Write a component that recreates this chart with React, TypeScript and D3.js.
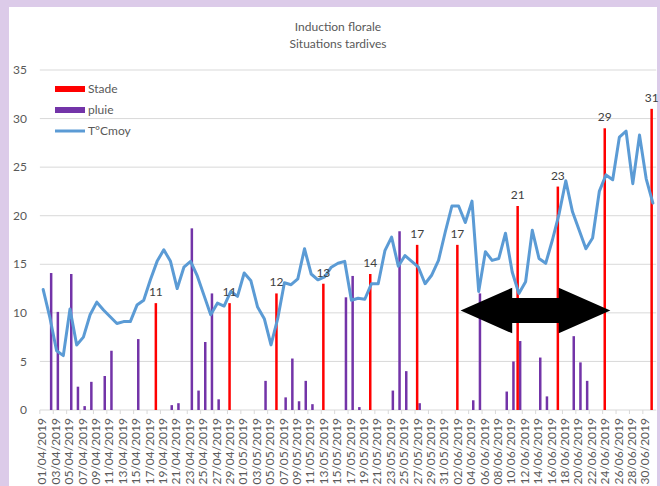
import React from "react";
import * as d3 from "d3";

// ---- DATA ----
const titleLines = ["Induction florale", "Situations tardives"];
const seriesNames = ["Stade", "pluie", "T°Cmoy"];
const startDate = new Date(2019, 3, 1);
const endDate = new Date(2019, 6, 2); // exclusive: last category 01/07/2019
const yTicks = [0, 5, 10, 15, 20, 25, 30, 35];

// T°Cmoy, one value per day from 01/04 to 01/07
const tmoy = [
  12.4, 9.5, 6.1, 5.6, 10.4, 6.7, 7.5, 9.8, 11.1, 10.3,
  9.6, 8.9, 9.1, 9.1, 10.8, 11.3, 13.4, 15.3, 16.5, 15.3,
  12.5, 14.7, 15.3, 13.8, 11.8, 9.8, 11.0, 10.7, 12.2, 11.7,
  14.1, 13.3, 10.6, 9.4, 6.7, 9.4, 13.1, 12.9, 13.5, 16.6,
  14.0, 13.4, 13.7, 14.7, 15.1, 15.3, 11.3, 11.5, 11.4, 13.0,
  13.0, 16.4, 17.8, 14.8, 15.9, 15.3, 14.7, 13.0, 13.9, 15.4,
  18.3, 21.0, 21.0, 19.3, 21.5, 12.2, 16.3, 15.4, 15.6, 18.2,
  14.2, 12.0, 13.2, 18.5, 15.6, 15.1, 17.5, 20.2, 23.6, 20.4,
  18.5, 16.6, 17.7, 22.5, 24.2, 23.7, 28.1, 28.7, 23.3, 28.3,
  23.8, 21.3,
];

// pluie (rain), only non-zero days
const pluie: [string, number][] = [
  ["02/04", 14.1], ["03/04", 10.1], ["05/04", 14.0], ["06/04", 2.4],
  ["07/04", 0.4], ["08/04", 2.9], ["10/04", 3.5], ["11/04", 6.1],
  ["15/04", 7.3], ["20/04", 0.5], ["21/04", 0.7], ["23/04", 18.7],
  ["24/04", 2.0], ["25/04", 7.0], ["26/04", 12.0], ["27/04", 1.1],
  ["04/05", 3.0], ["07/05", 1.3], ["08/05", 5.3], ["09/05", 0.9],
  ["10/05", 3.0], ["11/05", 0.6], ["16/05", 11.6], ["17/05", 13.8],
  ["18/05", 0.3], ["23/05", 2.0], ["24/05", 18.4], ["25/05", 4.0],
  ["27/05", 0.7], ["04/06", 1.0], ["05/06", 12.0], ["09/06", 1.9],
  ["10/06", 5.0], ["11/06", 7.1], ["14/06", 5.4], ["15/06", 1.4],
  ["19/06", 7.6], ["20/06", 4.9], ["21/06", 3.0],
];

// Stade (phenological stage), with data labels
const stade: [string, number][] = [
  ["18/04", 11], ["29/04", 11], ["06/05", 12], ["13/05", 13],
  ["20/05", 14], ["27/05", 17], ["02/06", 17], ["11/06", 21],
  ["17/06", 23], ["24/06", 29], ["01/07", 31],
];

// double arrow annotation (data coordinates)
const arrowFrom = "02/06";
const arrowTo = "24/06";

// ---- LAYOUT ----
const W = 660;
const H = 486;
const fmtKey = d3.timeFormat("%d/%m");
const fmtLabel = d3.timeFormat("%d/%m/%Y");
const days = d3.timeDay.range(startDate, endDate);
const keys = days.map((d) => fmtKey(d));

const x = d3.scaleBand<string>().domain(keys).range([39.85, 656.25]).padding(0);
const xs = d3
  .scaleBand<string>()
  .domain(["Stade", "pluie"])
  .range([0, x.bandwidth()])
  .paddingInner(0)
  .paddingOuter(0.34);
const y = d3.scaleLinear().domain([0, 35]).range([410, 70]);

const COLORS = { Stade: "#ff0000", pluie: "#7334a8", T: "#5b9bd5" };
const FONT = "Lato, 'Open Sans', sans-serif";
const TXT = "#595959";

export default function App() {
  const cx = (k: string) => (x(k) as number) + x.bandwidth() / 2;
  const line = d3
    .line<number>()
    .x((_, i) => cx(keys[i]))
    .y((v) => y(v));

  const [x0, x1] = x.range();

  // arrow geometry from scales
  const xa = cx(arrowFrom) + x.bandwidth() * 0.3;
  const xb = cx(arrowTo) + x.bandwidth() * 0.65;
  const yc = y(10.24);
  const hh = y(0) - y(2.35);
  const sh = y(0) - y(1.28);
  const headLen = x.step() * 7.7;
  const arrowPts = [
    [xa, yc],
    [xa + headLen, yc - hh],
    [xa + headLen, yc - sh],
    [xb - headLen, yc - sh],
    [xb - headLen, yc - hh],
    [xb, yc],
    [xb - headLen, yc + hh],
    [xb - headLen, yc + sh],
    [xa + headLen, yc + sh],
    [xa + headLen, yc + hh],
  ];

  return (
    <svg
      width={W}
      height={H}
      style={{ position: "absolute", left: 0, top: 0, display: "block" }}
      fontFamily={FONT}
    >
      <rect x={0} y={0} width={W} height={H} fill="#dccbe9" />
      <rect x={9} y={7} width={W - 12} height={H - 7} fill="#ffffff" />

      {/* title */}
      {titleLines.map((t, i) => (
        <text
          key={t}
          x={338}
          y={31 + i * 17}
          textAnchor="middle"
          fontSize={12}
          fill={TXT}
        >
          {t}
        </text>
      ))}

      {/* gridlines and y labels */}
      {yTicks.map((t) => (
        <g key={t}>
          <line
            x1={x0}
            x2={x1}
            y1={y(t)}
            y2={y(t)}
            stroke="#d9d9d9"
            strokeWidth={1}
          />
          <text
            x={27}
            y={y(t)}
            dy="0.35em"
            textAnchor="end"
            fontSize={12}
            fill={TXT}
          >
            {t}
          </text>
        </g>
      ))}

      {/* x tick marks & labels */}
      {keys.map((k, i) =>
        i % 2 === 0 ? (
          <g key={k}>
            <line
              x1={x(k) as number}
              x2={x(k) as number}
              y1={y(0)}
              y2={y(0) + 4}
              stroke="#d9d9d9"
            />
            <text
              transform={`translate(${cx(k) - 1},${y(0) + 8}) rotate(-90)`}
              textAnchor="end"
              dy="0.35em"
              fontSize={12}
              fill={TXT}
            >
              {fmtLabel(days[i])}
            </text>
          </g>
        ) : null
      )}

      {/* pluie bars */}
      {pluie.map(([k, v]) => (
        <rect
          key={"p" + k}
          x={(x(k) as number) + (xs("pluie") as number)}
          y={y(v)}
          width={xs.bandwidth()}
          height={y(0) - y(v)}
          fill={COLORS.pluie}
        />
      ))}

      {/* stade bars */}
      {stade.map(([k, v]) => (
        <rect
          key={"s" + k}
          x={(x(k) as number) + (xs("Stade") as number)}
          y={y(v)}
          width={xs.bandwidth()}
          height={y(0) - y(v)}
          fill={COLORS.Stade}
        />
      ))}

      {/* temperature line */}
      <path
        d={line(tmoy) || ""}
        fill="none"
        stroke={COLORS.T}
        strokeWidth={3}
        strokeLinejoin="round"
        strokeLinecap="round"
      />

      {/* stade labels */}
      {stade.map(([k, v]) => (
        <text
          key={"l" + k}
          x={(x(k) as number) + (xs("Stade") as number) + xs.bandwidth() / 2}
          y={y(v) - 7}
          textAnchor="middle"
          fontSize={12}
          fill="#404040"
        >
          {v}
        </text>
      ))}

      {/* legend */}
      <g>
        <rect x={55} y={86} width={30} height={6} fill={COLORS.Stade} />
        <text x={88} y={89} dy="0.35em" fontSize={12} fill={TXT}>
          {seriesNames[0]}
        </text>
        <rect x={55} y={107} width={30} height={6} fill={COLORS.pluie} />
        <text x={88} y={110} dy="0.35em" fontSize={12} fill={TXT}>
          {seriesNames[1]}
        </text>
        <line x1={55} x2={85} y1={131} y2={131} stroke={COLORS.T} strokeWidth={3} />
        <text x={88} y={131} dy="0.35em" fontSize={12} fill={TXT}>
          {seriesNames[2]}
        </text>
      </g>

      {/* double arrow annotation */}
      <polygon points={arrowPts.map((p) => p.join(",")).join(" ")} fill="#000000" />
    </svg>
  );
}
